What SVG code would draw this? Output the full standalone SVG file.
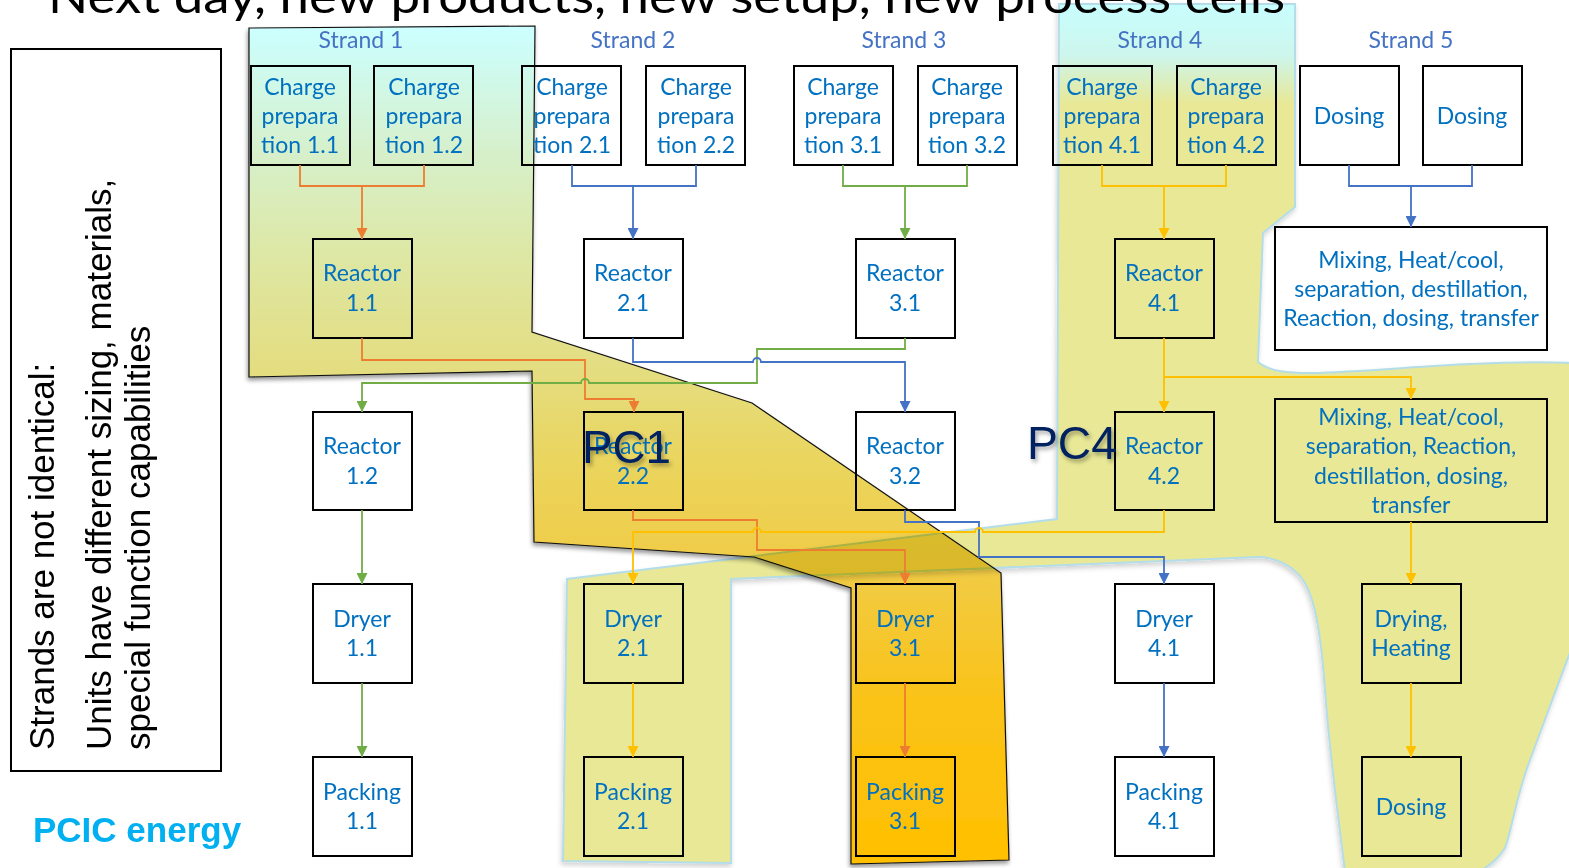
<svg xmlns="http://www.w3.org/2000/svg" width="1569" height="868" viewBox="0 0 1569 868">
<defs>
<style>
.box{fill:none;stroke:#000;stroke-width:2}
.lbl{font-family:Lato,"Open Sans",sans-serif;font-size:23px;fill:#0070C0;text-anchor:middle}
.strand{font-family:Lato,"Open Sans",sans-serif;font-size:23px;fill:#4472C4;text-anchor:middle}
.side{font-family:"Liberation Sans",Arial,sans-serif;font-size:35px;fill:#000}
.pc{font-family:"Liberation Sans",Arial,sans-serif;font-size:47px;fill:#002060}
.c{fill:none;stroke-width:1.8}
.o{stroke:#ED7D31}.b{stroke:#4472C4}.g{stroke:#70AD47}.y{stroke:#FFC000}
</style>
<linearGradient id="gPC1" gradientUnits="userSpaceOnUse" x1="0" y1="28" x2="0" y2="864">
<stop offset="0" stop-color="#CCFFFF"/>
<stop offset="0.146" stop-color="#D6F0CC"/>
<stop offset="0.266" stop-color="#DDE8A6"/>
<stop offset="0.41" stop-color="#E4DD80"/>
<stop offset="0.517" stop-color="#EAD55E"/>
<stop offset="0.636" stop-color="#F0CC48"/>
<stop offset="0.804" stop-color="#FAC318"/>
<stop offset="1" stop-color="#FFC000"/>
</linearGradient>
<linearGradient id="gPC4" gradientUnits="userSpaceOnUse" x1="0" y1="4" x2="0" y2="870">
<stop offset="0" stop-color="#C8FEFE"/>
<stop offset="0.06" stop-color="#CDF6EC"/>
<stop offset="0.115" stop-color="#E8E896"/>
<stop offset="1" stop-color="#E8E896"/>
</linearGradient>
<filter id="sh1" x="-10%" y="-10%" width="120%" height="120%">
<feDropShadow dx="-1" dy="3" stdDeviation="2" flood-color="#000" flood-opacity="0.4"/>
</filter>
<filter id="sh4" x="-10%" y="-10%" width="120%" height="120%">
<feDropShadow dx="-1" dy="3" stdDeviation="2.5" flood-color="#000" flood-opacity="0.18"/>
</filter>
<filter id="shT" x="-20%" y="-20%" width="140%" height="140%">
<feDropShadow dx="2" dy="3" stdDeviation="2" flood-color="#000" flood-opacity="0.35"/>
</filter>
<marker id="aO" viewBox="0 0 10 10" refX="10" refY="5" markerWidth="11" markerHeight="11" markerUnits="userSpaceOnUse" orient="auto"><path d="M0,0 L10,5 L0,10 z" fill="#ED7D31"/></marker>
<marker id="aB" viewBox="0 0 10 10" refX="10" refY="5" markerWidth="11" markerHeight="11" markerUnits="userSpaceOnUse" orient="auto"><path d="M0,0 L10,5 L0,10 z" fill="#4472C4"/></marker>
<marker id="aG" viewBox="0 0 10 10" refX="10" refY="5" markerWidth="11" markerHeight="11" markerUnits="userSpaceOnUse" orient="auto"><path d="M0,0 L10,5 L0,10 z" fill="#70AD47"/></marker>
<marker id="aY" viewBox="0 0 10 10" refX="10" refY="5" markerWidth="11" markerHeight="11" markerUnits="userSpaceOnUse" orient="auto"><path d="M0,0 L10,5 L0,10 z" fill="#FFC000"/></marker>
</defs>

<rect x="0" y="0" width="1569" height="868" fill="#fff"/>

<!-- Process cell regions -->
<g id="PC1-region">
<polygon points="249,28 535,26 532,332 752,403 1001,573 1009,860 851,864 851,588 820,578 754,557 534,542 532,371 249,377" fill="url(#gPC1)" stroke="#111" stroke-width="1.2" filter="url(#sh1)"/>
</g>
<g id="PC4-region" style="mix-blend-mode:multiply">
<path d="M1059,4 L1295,4 L1295,207 L1263,233 L1258,362 C1270,372 1290,373 1310,373 C1360,372 1420,366 1470,364 C1510,362 1545,362 1575,363 L1575,640 C1566,662 1545,720 1530,760 C1515,800 1512,830 1505,848 C1498,860 1488,866 1479,872 L1345,872 C1340,830 1330,760 1325,690 C1320,620 1312,585 1296,572 C1285,562 1270,557 1259,557 L731,579 L731,863 L563,861 L567,579 L1057,519 Z" fill="url(#gPC4)" stroke="#B4DDE9" stroke-width="2" filter="url(#sh4)"/>
</g>

<!-- Title (cut off at top) -->
<text x="48" y="13" font-family="Lato,'Open Sans',sans-serif" font-size="46" fill="#000" textLength="1237" lengthAdjust="spacingAndGlyphs">Next day, new products, new setup, new process cells</text>

<!-- Side note -->
<g id="note">
<rect x="11" y="49" width="210" height="722" fill="none" stroke="#000" stroke-width="2"/>
<text class="side" transform="translate(54,750) rotate(-90)">Strands are not identical:</text>
<text class="side" transform="translate(111,750) rotate(-90)">Units have different sizing, materials,</text>
<text class="side" transform="translate(150,750) rotate(-90)">special function capabilities</text>
</g>
<text id="brand" x="33" y="842" font-family="'Liberation Sans',Arial,sans-serif" font-weight="bold" font-size="35" fill="#00B0F0">PCIC energy</text>

<!-- Strand labels -->
<g id="strand-labels">
<text class="strand" x="361" y="48">Strand 1</text>
<text class="strand" x="633" y="48">Strand 2</text>
<text class="strand" x="904" y="48">Strand 3</text>
<text class="strand" x="1160" y="48">Strand 4</text>
<text class="strand" x="1411" y="48">Strand 5</text>
</g>

<!-- Nodes: charge preparation -->
<g id="cp11"><rect class="box" x="251" y="66" width="99" height="99"/><text class="lbl" x="300" y="95">Charge</text><text class="lbl" x="300" y="124">prepara</text><text class="lbl" x="300" y="153">tion 1.1</text></g>
<g id="cp12"><rect class="box" x="374" y="66" width="99" height="99"/><text class="lbl" x="424" y="95">Charge</text><text class="lbl" x="424" y="124">prepara</text><text class="lbl" x="424" y="153">tion 1.2</text></g>
<g id="cp21"><rect class="box" x="522" y="66" width="99" height="99"/><text class="lbl" x="572" y="95">Charge</text><text class="lbl" x="572" y="124">prepara</text><text class="lbl" x="572" y="153">tion 2.1</text></g>
<g id="cp22"><rect class="box" x="646" y="66" width="99" height="99"/><text class="lbl" x="696" y="95">Charge</text><text class="lbl" x="696" y="124">prepara</text><text class="lbl" x="696" y="153">tion 2.2</text></g>
<g id="cp31"><rect class="box" x="794" y="66" width="99" height="99"/><text class="lbl" x="843" y="95">Charge</text><text class="lbl" x="843" y="124">prepara</text><text class="lbl" x="843" y="153">tion 3.1</text></g>
<g id="cp32"><rect class="box" x="918" y="66" width="99" height="99"/><text class="lbl" x="967" y="95">Charge</text><text class="lbl" x="967" y="124">prepara</text><text class="lbl" x="967" y="153">tion 3.2</text></g>
<g id="cp41"><rect class="box" x="1053" y="66" width="99" height="99"/><text class="lbl" x="1102" y="95">Charge</text><text class="lbl" x="1102" y="124">prepara</text><text class="lbl" x="1102" y="153">tion 4.1</text></g>
<g id="cp42"><rect class="box" x="1177" y="66" width="99" height="99"/><text class="lbl" x="1226" y="95">Charge</text><text class="lbl" x="1226" y="124">prepara</text><text class="lbl" x="1226" y="153">tion 4.2</text></g>
<g id="dos51"><rect class="box" x="1300" y="66" width="99" height="99"/><text class="lbl" x="1349" y="124">Dosing</text></g>
<g id="dos52"><rect class="box" x="1423" y="66" width="99" height="99"/><text class="lbl" x="1472" y="124">Dosing</text></g>

<!-- Row 1 -->
<g id="r11"><rect class="box" x="313" y="239" width="99" height="99"/><text class="lbl" x="362" y="281">Reactor</text><text class="lbl" x="362" y="311">1.1</text></g>
<g id="r21"><rect class="box" x="584" y="239" width="99" height="99"/><text class="lbl" x="633" y="281">Reactor</text><text class="lbl" x="633" y="311">2.1</text></g>
<g id="r31"><rect class="box" x="856" y="239" width="99" height="99"/><text class="lbl" x="905" y="281">Reactor</text><text class="lbl" x="905" y="311">3.1</text></g>
<g id="r41"><rect class="box" x="1115" y="239" width="99" height="99"/><text class="lbl" x="1164" y="281">Reactor</text><text class="lbl" x="1164" y="311">4.1</text></g>
<g id="mix51"><rect class="box" x="1275" y="227" width="272" height="123"/><text class="lbl" x="1411" y="268">Mixing, Heat/cool,</text><text class="lbl" x="1411" y="297">separation, destillation,</text><text class="lbl" x="1411" y="326">Reaction, dosing, transfer</text></g>

<!-- Row 2 -->
<g id="r12"><rect class="box" x="313" y="412" width="99" height="98"/><text class="lbl" x="362" y="454">Reactor</text><text class="lbl" x="362" y="484">1.2</text></g>
<g id="r22"><rect class="box" x="584" y="412" width="99" height="98"/><text class="lbl" x="633" y="454">Reactor</text><text class="lbl" x="633" y="484">2.2</text></g>
<g id="r32"><rect class="box" x="856" y="412" width="99" height="98"/><text class="lbl" x="905" y="454">Reactor</text><text class="lbl" x="905" y="484">3.2</text></g>
<g id="r42"><rect class="box" x="1115" y="412" width="99" height="98"/><text class="lbl" x="1164" y="454">Reactor</text><text class="lbl" x="1164" y="484">4.2</text></g>
<g id="mix52"><rect class="box" x="1275" y="399" width="272" height="123"/><text class="lbl" x="1411" y="425">Mixing, Heat/cool,</text><text class="lbl" x="1411" y="454">separation, Reaction,</text><text class="lbl" x="1411" y="484">destillation, dosing,</text><text class="lbl" x="1411" y="513">transfer</text></g>

<!-- Row 3 -->
<g id="d11"><rect class="box" x="313" y="584" width="99" height="99"/><text class="lbl" x="362" y="627">Dryer</text><text class="lbl" x="362" y="656">1.1</text></g>
<g id="d21"><rect class="box" x="584" y="584" width="99" height="99"/><text class="lbl" x="633" y="627">Dryer</text><text class="lbl" x="633" y="656">2.1</text></g>
<g id="d31"><rect class="box" x="856" y="584" width="99" height="99"/><text class="lbl" x="905" y="627">Dryer</text><text class="lbl" x="905" y="656">3.1</text></g>
<g id="d41"><rect class="box" x="1115" y="584" width="99" height="99"/><text class="lbl" x="1164" y="627">Dryer</text><text class="lbl" x="1164" y="656">4.1</text></g>
<g id="dry5"><rect class="box" x="1362" y="584" width="99" height="99"/><text class="lbl" x="1411" y="627">Drying,</text><text class="lbl" x="1411" y="656">Heating</text></g>

<!-- Row 4 -->
<g id="p11"><rect class="box" x="313" y="757" width="99" height="99"/><text class="lbl" x="362" y="800">Packing</text><text class="lbl" x="362" y="829">1.1</text></g>
<g id="p21"><rect class="box" x="584" y="757" width="99" height="99"/><text class="lbl" x="633" y="800">Packing</text><text class="lbl" x="633" y="829">2.1</text></g>
<g id="p31"><rect class="box" x="856" y="757" width="99" height="99"/><text class="lbl" x="905" y="800">Packing</text><text class="lbl" x="905" y="829">3.1</text></g>
<g id="p41"><rect class="box" x="1115" y="757" width="99" height="99"/><text class="lbl" x="1164" y="800">Packing</text><text class="lbl" x="1164" y="829">4.1</text></g>
<g id="dos5b"><rect class="box" x="1362" y="757" width="99" height="99"/><text class="lbl" x="1411" y="815">Dosing</text></g>

<!-- Connectors -->
<g id="connectors">
<path class="c o" d="M300,165 V186 H424 V165"/>
<path class="c o" d="M362,186 V239" marker-end="url(#aO)"/>
<path class="c b" d="M572,165 V186 H696 V165"/>
<path class="c b" d="M633,186 V239" marker-end="url(#aB)"/>
<path class="c g" d="M843,165 V186 H967 V165"/>
<path class="c g" d="M905,186 V239" marker-end="url(#aG)"/>
<path class="c y" d="M1102,165 V186 H1226 V165"/>
<path class="c y" d="M1164,186 V239" marker-end="url(#aY)"/>
<path class="c b" d="M1349,165 V186 H1472 V165"/>
<path class="c b" d="M1411,186 V227" marker-end="url(#aB)"/>

<path class="c o" d="M362,338 V360 H585 V399 H634 V412" marker-end="url(#aO)"/>
<path class="c g" d="M905,338 V349 H757 V383 H589 A4,4 0 0 0 581,383 H362 V412" marker-end="url(#aG)"/>
<path class="c b" d="M633,338 V362 H753 A4,4 0 0 1 761,362 H905 V412" marker-end="url(#aB)"/>
<path class="c y" d="M1164,338 V412" marker-end="url(#aY)"/>
<path class="c y" d="M1164,377 H1411 V399" marker-end="url(#aY)"/>

<path class="c g" d="M362,510 V584" marker-end="url(#aG)"/>
<path class="c o" d="M633,510 V520 H757 V550 H905 V584" marker-end="url(#aO)"/>
<path class="c b" d="M905,510 V522 H979 V557 H1164 V584" marker-end="url(#aB)"/>
<path class="c y" d="M1164,510 V532 H983 A4,4 0 0 0 975,532 H761 A4,4 0 0 0 753,532 H633 V584" marker-end="url(#aY)"/>
<path class="c y" d="M1411,522 V584" marker-end="url(#aY)"/>

<path class="c g" d="M362,683 V757" marker-end="url(#aG)"/>
<path class="c y" d="M633,683 V757" marker-end="url(#aY)"/>
<path class="c o" d="M905,683 V757" marker-end="url(#aO)"/>
<path class="c b" d="M1164,683 V757" marker-end="url(#aB)"/>
<path class="c y" d="M1411,683 V757" marker-end="url(#aY)"/>
</g>

<!-- Process cell labels -->
<text id="PC1-label" class="pc" x="582" y="463" textLength="89" lengthAdjust="spacingAndGlyphs" filter="url(#shT)">PC1</text>
<text id="PC4-label" class="pc" x="1027" y="459" textLength="90" lengthAdjust="spacingAndGlyphs" filter="url(#shT)">PC4</text>
</svg>
